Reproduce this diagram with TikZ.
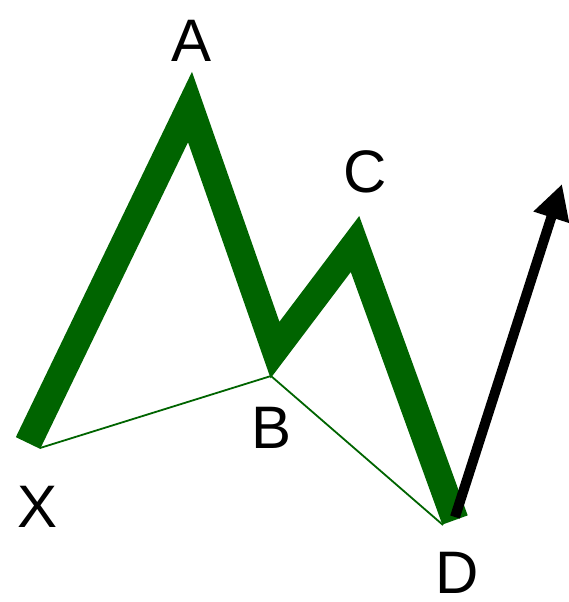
\documentclass[tikz,border=0pt]{standalone}
\usepackage{fontspec}
\setmainfont{Liberation Sans}
\usetikzlibrary{arrows.meta}
\definecolor{wavegreen}{HTML}{006400}
\tikzset{
  leg/.style={draw=wavegreen, line width=27pt, line join=miter, miter limit=10},
  baseline/.style={draw=wavegreen, line width=1.8pt},
  trend/.style={-{Triangle[length=35pt, width=35pt]}, line width=10pt, draw=black},
  lbl/.style={font=\fontsize{60}{60}\selectfont, inner sep=0pt},
}
\begin{document}
\begin{tikzpicture}[x=1pt, y=-1pt]
  \useasboundingbox (0,0) rectangle (569,602);
  % pattern points
  \coordinate (x) at (28,443);
  \coordinate (a) at (190,107);
  \coordinate (b) at (275,350);
  \coordinate (c) at (355,244);
  \coordinate (d) at (455,520);
  % ends of the thin lines
  \coordinate (xe) at (40,448);
  \coordinate (be) at (271,376);
  \coordinate (de) at (443,525);
  \coordinate (ds) at (455,517);
  \coordinate (up) at (562,184);
  \draw[baseline] (xe) -- (be) -- (de);
  \draw[leg] (x) -- (a) -- (b) -- (c) -- (d);
  \draw[trend] (ds) -- (up);
  \node[lbl] (la) at (192,41) {A};
  \node[lbl] (lb) at (272,428) {B};
  \node[lbl] (lc) at (365,172) {C};
  \node[lbl] (lx) at (38,507) {X};
  \node[lbl] (ld) at (457,573) {D};
\end{tikzpicture}
\end{document}
